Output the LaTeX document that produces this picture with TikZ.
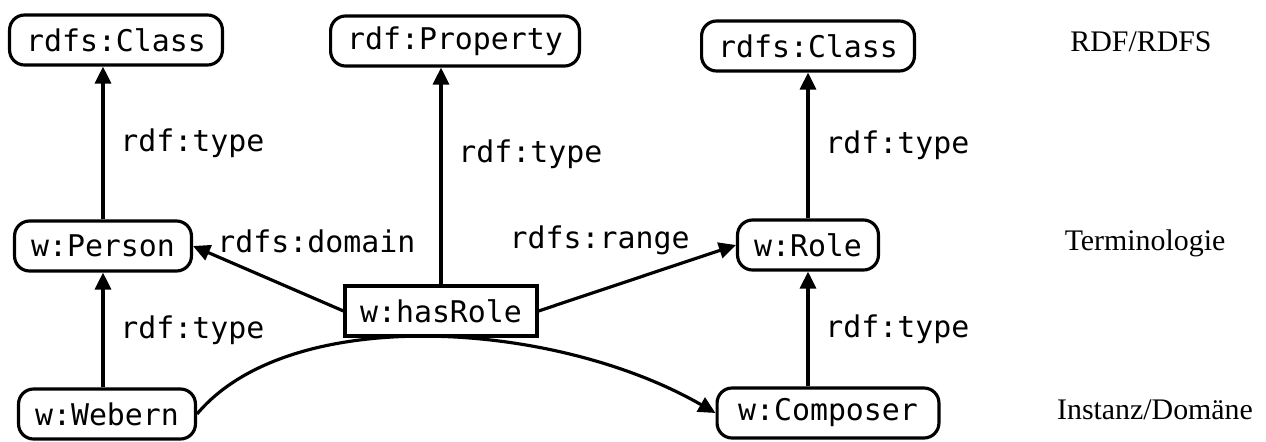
\documentclass[tikz,border=0pt]{standalone}
\usepackage{fontspec}
\setmainfont{Liberation Serif}
\setmonofont{DejaVu Sans Mono}
\usepackage{tikz}
\usetikzlibrary{arrows.meta,positioning}

\begin{document}
\begin{tikzpicture}[line width=1.8pt,>={Triangle[length=3.4mm,width=3.2mm]},
box/.style={draw,rounded corners=0.3cm,minimum height=1cm,inner xsep=0.33cm,font=\fontsize{17}{20}\ttfamily},
box1/.style={draw,minimum height=1cm,inner xsep=0.3cm,font=\fontsize{17}{20}\ttfamily},
lab/.style={right,xshift=0.2cm,font=\fontsize{17}{20}\ttfamily},
lev/.style={font=\fontsize{17}{20}\selectfont}]
\useasboundingbox (0,0) rectangle (25.32,8.82);
\node[box] (cls1) at (2.32,8.02) {rdfs:Class};
\node[box] (prop) at (9.10,8.00) {rdf:Property};
\node[box] (cls2) at (16.16,7.90) {rdfs:Class};
\node[box] (per) at (2.06,3.90) {w:Person};
\node[box1] (hasr) at (8.82,2.60) {w:hasRole};
\node[box] (role) at (16.16,3.92) {w:Role};
\node[box] (web) at (2.14,0.54) {w:Webern};
\node[box,inner xsep=0.42cm] (comp) at (16.56,0.56) {w:Composer};
\node[lev] (l1) at (22.82,7.98) {RDF/RDFS};
\node[lev] (l2) at (22.90,3.96) {Terminologie};
\node[lev] (l3) at (23.10,0.62) {Instanz/Domäne};
\draw[->] (per.north) -- (per.north |- cls1.south) node[lab,pos=0.5]{rdf:type};
\draw[->] (hasr.north) -- (hasr.north |- prop.south) node[lab,pos=0.6]{rdf:type};
\draw[->] (role.north) -- (role.north |- cls2.south) node[lab,pos=0.5]{rdf:type};
\draw[->] (web.north -| per) -- (per.south) node[lab,pos=0.5]{rdf:type};
\draw[->] (comp.north -| role) -- (role.south) node[lab,pos=0.5]{rdf:type};
\draw[->] (hasr.west) -- (per.east);
\draw[->] (hasr.east) -- (role.west);
\node[right=0.34cm of per,yshift=0.1cm,font=\fontsize{17}{20}\ttfamily] (dom) {rdfs:domain};
\node[left=0.78cm of role,yshift=0.1cm,font=\fontsize{17}{20}\ttfamily] (ran) {rdfs:range};
\draw[->] (web.east) .. controls +(50:2.9) and +(150:3.7) .. (comp.west);
\end{tikzpicture}
\end{document}
